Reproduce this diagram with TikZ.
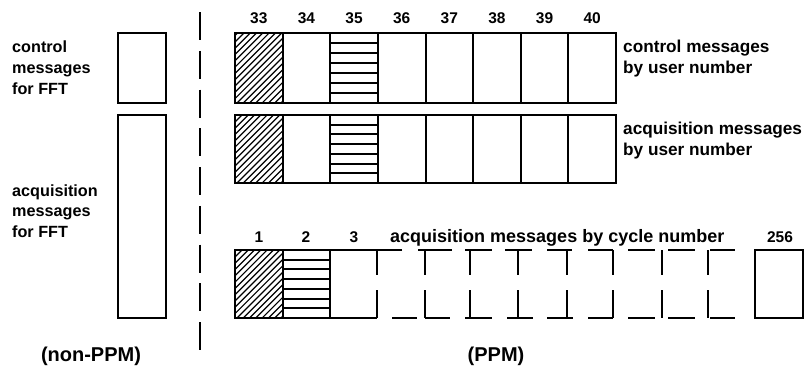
\documentclass[tikz,border=0pt]{standalone}
\usepackage{fontspec}
\setmainfont{Liberation Sans}
\newcommand{\myhatch}[4]{%
  \begin{scope}
    \clip (#1,#2) rectangle (#3,#4);
    \foreach \k in {0,...,24}{\draw[line width=1.2pt] ({#1-80+\k*6.3},#4) -- ++(100,-100);}
  \end{scope}}
\newcommand{\mybars}[4]{%
  \foreach \k in {1,...,6}{\draw[line width=2pt] (#1,{#2+\k*(#4-#2)/7}) -- (#3,{#2+\k*(#4-#2)/7});}}
\begin{document}
\begin{tikzpicture}[x=1pt,y=-1pt,line join=miter,
  box/.style={line width=2pt},
  lbl/.style={font=\fontsize{16.2}{20}\bfseries\selectfont,inner sep=0pt,anchor=base west},
  rlbl/.style={font=\fontsize{17.2}{21}\bfseries\selectfont,inner sep=0pt,anchor=base west},
  num/.style={font=\fontsize{15.5}{18}\bfseries\selectfont,inner sep=0pt,anchor=base},
  captext/.style={font=\fontsize{20}{22}\bfseries\selectfont,inner sep=0pt,anchor=base}]
\useasboundingbox (0,0) rectangle (805,370);
\fill[white] (0,0) rectangle (805,370);

% left (non-PPM)
\node[lbl] (lc1) at (12,52) {control};
\node[lbl] (lc2) at (12,73) {messages};
\node[lbl] (lc3) at (12,94) {for FFT};
\node[lbl] (la1) at (12,196) {acquisition};
\node[lbl] (la2) at (12,216) {messages};
\node[lbl] (la3) at (12,237) {for FFT};
\draw[box] (118,33) rectangle (166,103);
\draw[box] (118,115) rectangle (166,318);
\node[captext] (nonppm) at (91,361) {(non-PPM)};

% divider
\draw[line width=2pt,dash pattern=on 28pt off 10.75pt] (200,12) -- (200,350);

% top rows
\myhatch{235}{33}{282.6}{103}
\mybars{330.25}{33}{377.9}{103}
\myhatch{235}{115}{282.6}{183}
\mybars{330.25}{115}{377.9}{183}
\draw[box] (235,33) rectangle (616,103);
\draw[box] (235,115) rectangle (616,183);
\foreach \i in {1,...,7}{
  \draw[box] ({235+47.625*\i},33) -- ({235+47.625*\i},103);
  \draw[box] ({235+47.625*\i},115) -- ({235+47.625*\i},183);}
\foreach \n [count=\i from 0] in {33,...,40}{
  \node[num] at ({235+47.625*(\i+0.5)},23) {\n};}
\node[rlbl] (tc1) at (623,52) {control messages};
\node[rlbl] (tc2) at (623,73) {by user number};
\node[rlbl] (ta1) at (623,134) {acquisition messages};
\node[rlbl] (ta2) at (623,155) {by user number};

% bottom row
\myhatch{235}{250}{282.6}{318}
\mybars{282.6}{250}{330.25}{318}
\draw[box] (402,250) -- (235,250) -- (235,318) -- (377,318);
\draw[box] (282.6,250) -- (282.6,318);
\draw[box] (330.25,250) -- (330.25,318);
\foreach \x in {377,425,470,518,567,613,662,708}{
  \draw[box] (\x,250) -- (\x,275);
  \draw[box] (\x,290) -- (\x,318);}
\foreach \a/\b in {418/452,465/492,505/532,547/572,588/613,628/655,668/695,710/735}{
  \draw[box] (\a,250) -- (\b,250);}
\foreach \a/\b in {392/417,425/450,465/492,507/533,547/573,588/613,628/655,668/695,710/735}{
  \draw[box] (\a,318) -- (\b,318);}
\draw[box] (755,250) rectangle (803,318);
\node[num] (c1) at (259,242) {1};
\node[num] (c2) at (306,242) {2};
\node[num] (c3) at (354,242) {3};
\node[rlbl,font=\fontsize{18}{22}\bfseries\selectfont] (cyc) at (390,242) {acquisition messages by cycle number};
\node[num] (c256) at (780,242) {256};
\node[captext] (ppm) at (496,361) {(PPM)};
\end{tikzpicture}
\end{document}
